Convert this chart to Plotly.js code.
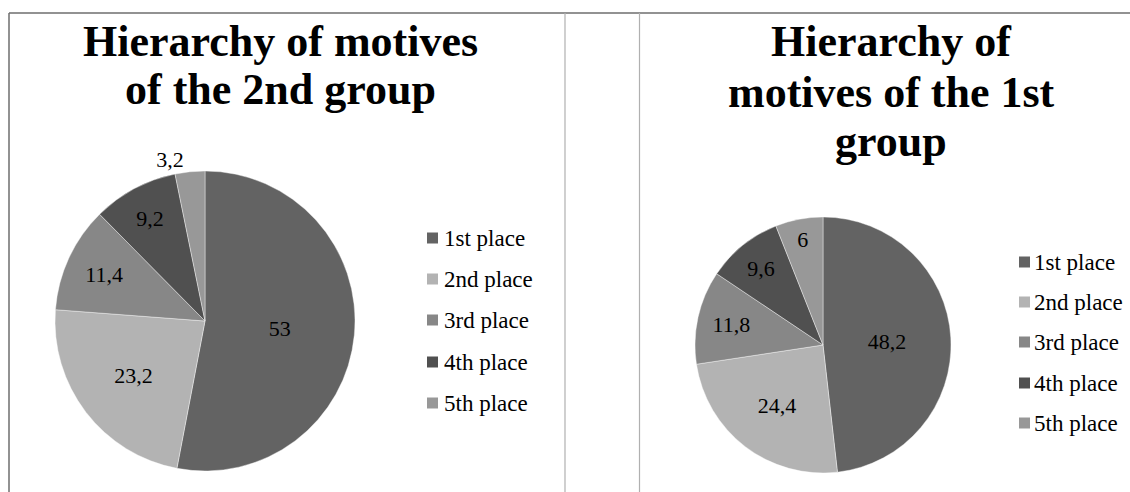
<!DOCTYPE html>
<html>
<head>
<meta charset="utf-8">
<script src="https://cdn.plot.ly/plotly-3.0.1.min.js"></script>
<style>html,body{margin:0;padding:0;background:#fff;}#chart{width:1130px;height:492px;}</style>
</head>
<body>
<div id="chart"></div>
<script>
const categories = ["1st place", "2nd place", "3rd place", "4th place", "5th place"];
const group2Values = [53, 23.2, 11.4, 9.2, 3.2];
const group1Values = [48.2, 24.4, 11.8, 9.6, 6];
const group2TitleLines = ["Hierarchy of motives", "of the 2nd group"];
const group1TitleLines = ["Hierarchy of", "motives of the 1st", "group"];
const sliceColors = ["#636363", "#b3b3b3", "#878787", "#505050", "#989898"];

const W = 1130, H = 492;
const px = x => x / W;
const py = y => 1 - y / H;
const FONT = "Liberation Serif";
const fmt = v => String(v).replace(".", ",");

function pieTrace(values, cx, cy, r, positions) {
  return {
    type: "pie",
    labels: categories,
    values: values,
    text: values.map(fmt),
    textinfo: "text",
    textposition: positions,
    insidetextorientation: "horizontal",
    sort: false,
    direction: "clockwise",
    rotation: 0,
    hoverinfo: "none",
    marker: {colors: sliceColors, line: {color: "rgba(255,255,255,0.5)", width: 0.8}},
    textfont: {family: FONT, size: 22, color: "#000"},
    insidetextfont: {family: FONT, size: 22, color: "#000"},
    outsidetextfont: {family: FONT, size: 22, color: "#000"},
    domain: {x: [px(cx - r), px(cx + r)], y: [py(cy + r), py(cy - r)]},
    showlegend: false
  };
}

const data = [
  pieTrace(group2Values, 205, 321, 150, ["inside", "inside", "inside", "inside", "outside"]),
  pieTrace(group1Values, 823, 345, 128, ["inside", "inside", "inside", "inside", "inside"])
];

const shapes = [
  {type: "line", xref: "paper", yref: "paper", x0: px(9), x1: px(1130), y0: py(13), y1: py(13), line: {color: "#6e6e6e", width: 1.5}},
  {type: "line", xref: "paper", yref: "paper", x0: px(9), x1: px(9), y0: py(13), y1: py(492), line: {color: "#6e6e6e", width: 1.5}},
  {type: "line", xref: "paper", yref: "paper", x0: px(565), x1: px(565), y0: py(13), y1: py(492), line: {color: "#b0b0b0", width: 1.2}},
  {type: "line", xref: "paper", yref: "paper", x0: px(639.5), x1: px(639.5), y0: py(13), y1: py(492), line: {color: "#b0b0b0", width: 1.2}}
];

const annotations = [];
function addTitle(lines, cx, firstBaseline, step) {
  lines.forEach((t, i) => {
    annotations.push({xref: "paper", yref: "paper", x: px(cx), y: py(firstBaseline + i * step - 13),
      xanchor: "center", yanchor: "middle", showarrow: false,
      text: "<b>" + t + "</b>", font: {family: FONT, size: 44, color: "#000"}});
  });
}
addTitle(group2TitleLines, 280, 54, 49);
addTitle(group1TitleLines, 891, 55, 50);

function addLegend(sqX, textX, rows) {
  categories.forEach((c, i) => {
    const yc = rows[i];
    shapes.push({type: "rect", xref: "paper", yref: "paper", x0: px(sqX), x1: px(sqX + 11), y0: py(yc + 5.5), y1: py(yc - 5.5),
      fillcolor: sliceColors[i], line: {width: 0}});
    annotations.push({xref: "paper", yref: "paper", x: px(textX), y: py(yc), xanchor: "left", yanchor: "middle", showarrow: false,
      text: c, font: {family: FONT, size: 23, color: "#000"}});
  });
}
addLegend(427, 442, [238, 279, 320, 362, 403]);
addLegend(1019, 1032, [262, 302, 342, 383, 423]);

const layout = {
  width: W, height: H,
  margin: {l: 0, r: 0, t: 0, b: 0},
  paper_bgcolor: "#fff",
  plot_bgcolor: "#fff",
  showlegend: false,
  shapes: shapes,
  annotations: annotations,
  font: {family: FONT}
};

Plotly.newPlot("chart", data, layout, {displayModeBar: false, staticPlot: true});
</script>
</body>
</html>
